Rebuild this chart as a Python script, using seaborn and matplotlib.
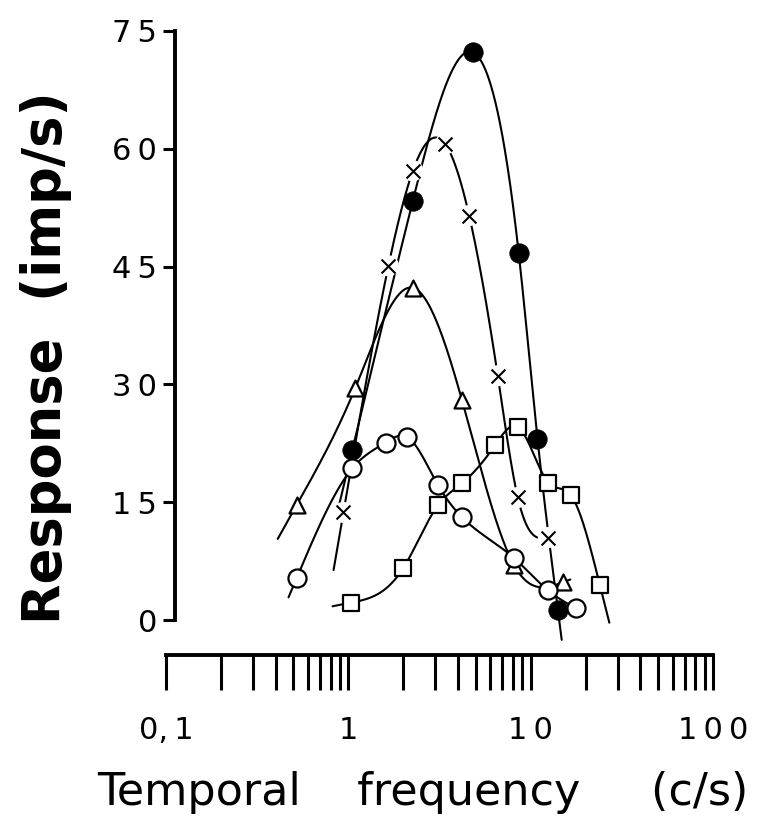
import numpy as np
import pandas as pd
import matplotlib
matplotlib.use("Agg")
import matplotlib.pyplot as plt
import seaborn as sns
from matplotlib.ticker import FixedLocator, FixedFormatter, NullFormatter

# Responses (imp/s) at each temporal frequency (c/s), one array pair per cell
filled_f = [1.05, 2.26, 4.8, 8.6, 10.9, 14.1]
filled_r = [21.6, 53.4, 72.3, 46.7, 23.1, 1.3]

cross_f = [0.94, 1.66, 2.26, 3.4, 4.6, 6.6, 8.5, 12.5]
cross_r = [13.7, 45.1, 57.2, 60.6, 51.5, 31.1, 15.6, 10.5]

tri_f = [0.52, 1.09, 2.26, 4.2, 8.1, 15.0]
tri_r = [14.6, 29.5, 42.3, 28.0, 7.0, 4.8]

open_f = [0.52, 1.05, 1.6, 2.1, 3.1, 4.2, 8.1, 12.4, 17.7]
open_r = [5.3, 19.3, 22.6, 23.3, 17.2, 13.1, 7.9, 3.8, 1.5]

sq_f = [1.03, 2.0, 3.1, 4.2, 6.4, 8.5, 12.5, 16.6, 24.0]
sq_r = [2.2, 6.6, 14.6, 17.4, 22.3, 24.6, 17.5, 15.9, 4.4]

x_ticks = [0.1, 1, 10, 100]
x_ticklabels = ["0,\u20091", "1", "1\u20090", "1\u20090\u20090"]
y_ticks = [0, 15, 30, 45, 60, 75]
y_ticklabels = ["0", "1\u20095", "3\u20090", "4\u20095", "6\u20090", "7\u20095"]

sns.set_theme(style="ticks")
plt.rcParams["font.family"] = ["DejaVu Sans"]

fig = plt.figure(figsize=(7.67, 8.25), dpi=100)
ax = fig.add_axes([0.2164, 0.2199, 0.7132, 0.7521])
ax.set_xscale("log")
ax.set_xlim(0.1, 100)
ax.set_ylim(-3, 76)


def smooth_curve(f, r, lo, hi, n=400):
    """Natural cubic spline through the points in log10(frequency),
    continued straight along the end tangents out to lo and hi."""
    x = np.log10(np.asarray(f, float))
    y = np.asarray(r, float)
    k = len(x)
    h = np.diff(x)
    A = np.zeros((k, k))
    b = np.zeros(k)
    A[0, 0] = A[-1, -1] = 1.0
    for i in range(1, k - 1):
        A[i, i - 1] = h[i - 1]
        A[i, i] = 2 * (h[i - 1] + h[i])
        A[i, i + 1] = h[i]
        b[i] = 6 * ((y[i + 1] - y[i]) / h[i] - (y[i] - y[i - 1]) / h[i - 1])
    M = np.linalg.solve(A, b)
    ug = np.linspace(np.log10(lo), np.log10(hi), n)
    out = np.empty_like(ug)
    s0 = (y[1] - y[0]) / h[0] - h[0] * (2 * M[0] + M[1]) / 6
    s1 = (y[-1] - y[-2]) / h[-1] + h[-1] * (2 * M[-1] + M[-2]) / 6
    for j, u in enumerate(ug):
        if u <= x[0]:
            out[j] = y[0] + s0 * (u - x[0])
        elif u >= x[-1]:
            out[j] = y[-1] + s1 * (u - x[-1])
        else:
            i = min(np.searchsorted(x, u) - 1, k - 2)
            a, c = x[i + 1] - u, u - x[i]
            out[j] = (M[i] * a ** 3 + M[i + 1] * c ** 3) / (6 * h[i]) \
                + (y[i] / h[i] - M[i] * h[i] / 6) * a \
                + (y[i + 1] / h[i] - M[i + 1] * h[i] / 6) * c
    return pd.DataFrame({"f": 10 ** ug, "r": out})


series = [
    # (freqs, responses, curve range, marker style)
    (filled_f, filled_r, (0.86, 14.8), "filled"),
    (cross_f, cross_r, (0.83, 13.6), "cross"),
    (tri_f, tri_r, (0.41, 16.5), "tri"),
    (open_f, open_r, (0.47, 19.5), "open"),
    (sq_f, sq_r, (0.82, 27.0), "square"),
]

for f, r, (lo, hi), kind in series:
    curve = smooth_curve(f, r, lo, hi)
    sns.lineplot(data=curve, x="f", y="r", sort=False, estimator=None,
                 color="black", lw=1.5, ax=ax, zorder=2)
    pts = pd.DataFrame({"f": f, "r": r})
    if kind == "filled":
        sns.scatterplot(data=pts, x="f", y="r", marker="o", s=196,
                        color="black", edgecolor="black", linewidth=0.5,
                        ax=ax, zorder=4, clip_on=False)
    elif kind == "open":
        sns.scatterplot(data=pts, x="f", y="r", marker="o", s=169,
                        facecolor="white", edgecolor="black", linewidth=1.6,
                        ax=ax, zorder=4, clip_on=False)
    elif kind == "square":
        sns.scatterplot(data=pts, x="f", y="r", marker="s", s=144,
                        facecolor="white", edgecolor="black", linewidth=1.6,
                        ax=ax, zorder=4, clip_on=False)
    elif kind == "tri":
        sns.scatterplot(data=pts, x="f", y="r", marker="^", s=132,
                        facecolor="white", edgecolor="black", linewidth=1.6,
                        ax=ax, zorder=4, clip_on=False)
    else:
        # white halo breaks the line around each cross
        sns.scatterplot(data=pts, x="f", y="r", marker="o", s=230,
                        color="white", edgecolor="none", linewidth=0,
                        ax=ax, zorder=3)
        ax.scatter(pts["f"], pts["r"], marker="x", s=100, color="black",
                   linewidths=1.5, zorder=4)

# axes styling
sns.despine(ax=ax, top=True, right=True)
ax.spines["left"].set_position(("data", 0.112))
ax.spines["left"].set_bounds(0, 75)
ax.spines["bottom"].set_position(("outward", 8.2))
ax.spines["bottom"].set_bounds(0.1, 100)
for s in ("left", "bottom"):
    ax.spines[s].set_linewidth(2.8)
    ax.spines[s].set_color("black")

ax.yaxis.set_major_locator(FixedLocator(y_ticks))
ax.yaxis.set_major_formatter(FixedFormatter(y_ticklabels))
ax.tick_params(axis="y", direction="out", length=9, width=2.2, pad=4,
               labelsize=22, color="black", labelcolor="black")

ax.xaxis.set_major_locator(FixedLocator(x_ticks))
ax.xaxis.set_major_formatter(FixedFormatter(x_ticklabels))
minor = [m * d for d in (0.1, 1, 10) for m in range(2, 10)]
ax.xaxis.set_minor_locator(FixedLocator(minor))
ax.xaxis.set_minor_formatter(NullFormatter())
ax.tick_params(axis="x", which="both", direction="out", length=25, width=2.2,
               pad=19, labelsize=22, color="black", labelcolor="black")

ax.set_xlabel("Temporal    frequency     (c/s)", fontsize=32, color="black")
ax.xaxis.set_label_coords(0.469, -0.205)
ax.set_ylabel("Response  (imp/s)", fontsize=38, fontweight="bold", color="black")
ax.yaxis.set_label_coords(-0.172, 0.46)

ax.set_facecolor("white")
fig.patch.set_facecolor("white")
fig.savefig("out.png", dpi=100)
